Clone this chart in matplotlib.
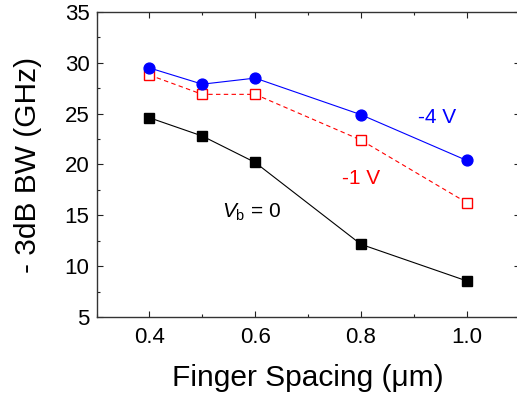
import matplotlib
matplotlib.use("Agg")
import matplotlib.pyplot as plt

plt.rcParams['font.family'] = ['Liberation Sans', 'DejaVu Sans']
plt.rcParams['mathtext.fontset'] = 'custom'
plt.rcParams['mathtext.rm'] = 'Liberation Sans'
plt.rcParams['mathtext.it'] = 'Liberation Sans:italic'

spacing = [0.4, 0.5, 0.6, 0.8, 1.0]
bw_m4V = [29.5, 27.9, 28.5, 24.9, 20.4]
bw_m1V = [28.8, 26.9, 26.9, 22.4, 16.25]
bw_0V = [24.6, 22.8, 20.2, 12.15, 8.55]

fig = plt.figure(figsize=(5.17, 3.95), dpi=100)
ax = fig.add_axes([0.1867, 0.1975, 1.005 - 0.1867, 0.9696 - 0.1975])

ax.plot(spacing, bw_0V, color='black', lw=0.8, marker='s', ms=6.8,
        mfc='black', mec='black')
ax.plot(spacing, bw_m1V, color='red', lw=0.8, ls=(0, (4, 3)), marker='s', ms=6.8,
        mfc='white', mec='red', mew=1.0)
ax.plot(spacing, bw_m4V, color='blue', lw=0.8, marker='o', ms=7.8,
        mfc='blue', mec='blue')

ax.set_xlim(0.3, 1.1)
ax.set_ylim(5, 35)
ax.set_xticks([0.4, 0.6, 0.8, 1.0])
ax.set_xticks([0.3, 0.5, 0.7, 0.9, 1.1], minor=True)
ax.set_yticks([5, 10, 15, 20, 25, 30, 35])
ax.set_yticks([7.5, 12.5, 17.5, 22.5, 27.5, 32.5], minor=True)
ax.set_xticklabels(['0.4', '0.6', '0.8', '1.0'])

ax.tick_params(which='both', direction='in', top=True, right=True,
               labelsize=16, width=0.8, color='#222222')
ax.tick_params(which='major', length=4.5)
ax.tick_params(which='minor', length=2.5)
ax.tick_params(axis='x', pad=7)
ax.tick_params(axis='y', pad=5)
for s in ax.spines.values():
    s.set_linewidth(1.0)
    s.set_color('#333333')

ax.set_xlabel('Finger Spacing (μm)', fontsize=21.5, labelpad=12)
ax.set_ylabel('- 3dB BW (GHz)', fontsize=21.5, labelpad=16)

ax.text(0.907, 24.1, '-4 V', color='blue', fontsize=15, ha='left', va='baseline')
ax.text(0.765, 18.1, '-1 V', color='red', fontsize=15, ha='left', va='baseline')
ax.text(0.538, 14.75, r'$V_{\mathrm{b}}$ = 0', color='black', fontsize=15,
        ha='left', va='baseline')

fig.savefig('out.png', dpi=100)
